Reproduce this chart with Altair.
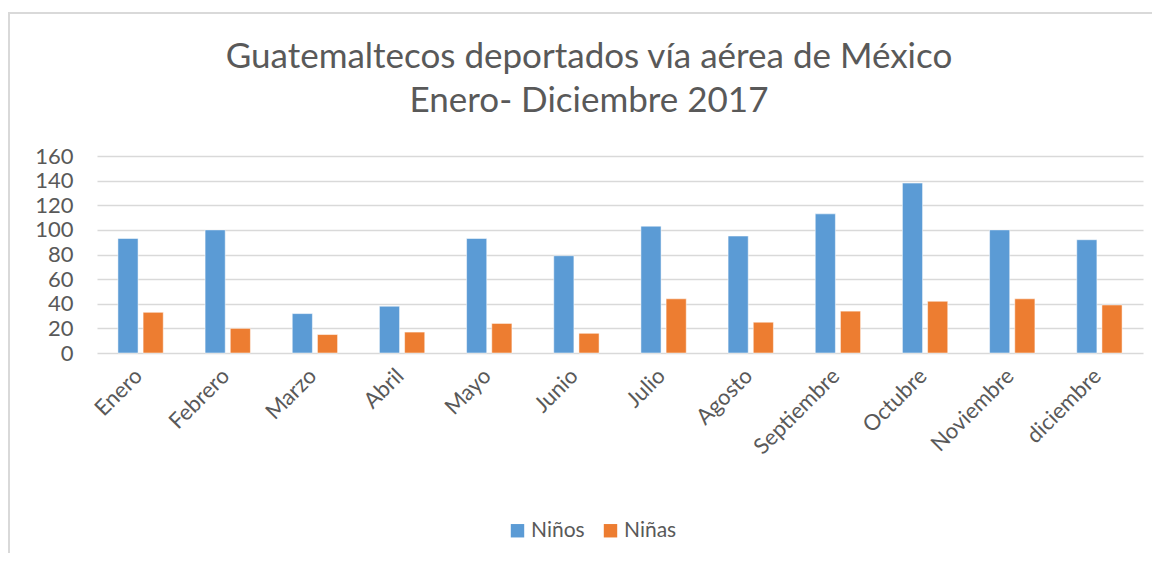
import altair as alt
import pandas as pd

months = ["Enero", "Febrero", "Marzo", "Abril", "Mayo", "Junio", "Julio",
          "Agosto", "Septiembre", "Octubre", "Noviembre", "diciembre"]
ninos = [93, 100, 32, 38, 93, 79, 103, 95, 113, 138, 100, 92]
ninas = [33, 20, 15, 17, 24, 16, 44, 25, 34, 42, 44, 39]
series = ["Niños", "Niñas"]
colors = ["#5b9bd5", "#ed7d31"]
title_lines = ["Guatemaltecos deportados vía aérea de México", "Enero- Diciembre 2017"]

rows = []
for m, a, b in zip(months, ninos, ninas):
    rows.append({"mes": m, "serie": "Niños", "valor": a})
    rows.append({"mes": m, "serie": "Niñas", "valor": b})
df = pd.DataFrame(rows)

FONT = "Lato"
GREY = "#595959"
W, H = 1046, 197

bars = alt.Chart(df).mark_bar(stroke="#ffffff", strokeOpacity=0.5, strokeWidth=1).encode(
    x=alt.X("mes:N", sort=months, title=None,
            scale=alt.Scale(paddingInner=0.48, paddingOuter=0.24),
            axis=alt.Axis(labelAngle=-45, labelFontSize=22, labelColor=GREY,
                          labelFont=FONT, ticks=False, domain=False, labelPadding=12,
                          labelOffset=-9, grid=False)),
    xOffset=alt.XOffset("serie:N", sort=series, scale=alt.Scale(paddingInner=0.2)),
    y=alt.Y("valor:Q", title=None,
            scale=alt.Scale(domain=[0, 160]),
            axis=alt.Axis(values=list(range(0, 161, 20)), labelFontSize=22,
                          labelColor=GREY, labelFont=FONT, ticks=False, domain=False,
                          gridColor="#d9d9d9", gridWidth=1.5, labelPadding=24)),
    color=alt.Color("serie:N", sort=series, title=None,
                    scale=alt.Scale(domain=series, range=colors),
                    legend=alt.Legend(orient="none", legendX=410, legendY=364,
                                      direction="horizontal", symbolType="square",
                                      symbolSize=180, symbolStrokeWidth=0,
                                      labelFontSize=21, labelColor=GREY,
                                      labelFont=FONT, columnPadding=15,
                                      symbolOffset=0, labelOffset=3, padding=0)),
)

one = pd.DataFrame({"k": [0]})
frame_top = alt.Chart(one).mark_rule(color="#d9d9d9", strokeWidth=2, clip=False).encode(
    x=alt.value(-88), x2=alt.value(W + 80), y=alt.value(-143))
frame_left = alt.Chart(one).mark_rule(color="#d9d9d9", strokeWidth=2, clip=False).encode(
    x=alt.value(-88), y=alt.value(-144), y2=alt.value(H + 260))

tdf = pd.DataFrame({"line": title_lines, "i": [0, 1]})
title1 = alt.Chart(tdf).transform_filter("datum.i == 0").mark_text(
    font=FONT, fontSize=35, color=GREY, align="center", baseline="middle"
).encode(text="line:N", x=alt.value(492), y=alt.value(-99))
title2 = alt.Chart(tdf).transform_filter("datum.i == 1").mark_text(
    font=FONT, fontSize=35, color=GREY, align="center", baseline="middle"
).encode(text="line:N", x=alt.value(492), y=alt.value(-55))

chart = alt.layer(frame_top, frame_left, bars, title1, title2).properties(
    width=W, height=H,
    background="white",
    autosize=alt.AutoSizeParams(type="none"),
    padding={"left": 89, "top": 148, "right": 9, "bottom": 200},
).configure_view(stroke=None)

chart.save("out.html", embed_options={"renderer": "svg", "actions": False})
